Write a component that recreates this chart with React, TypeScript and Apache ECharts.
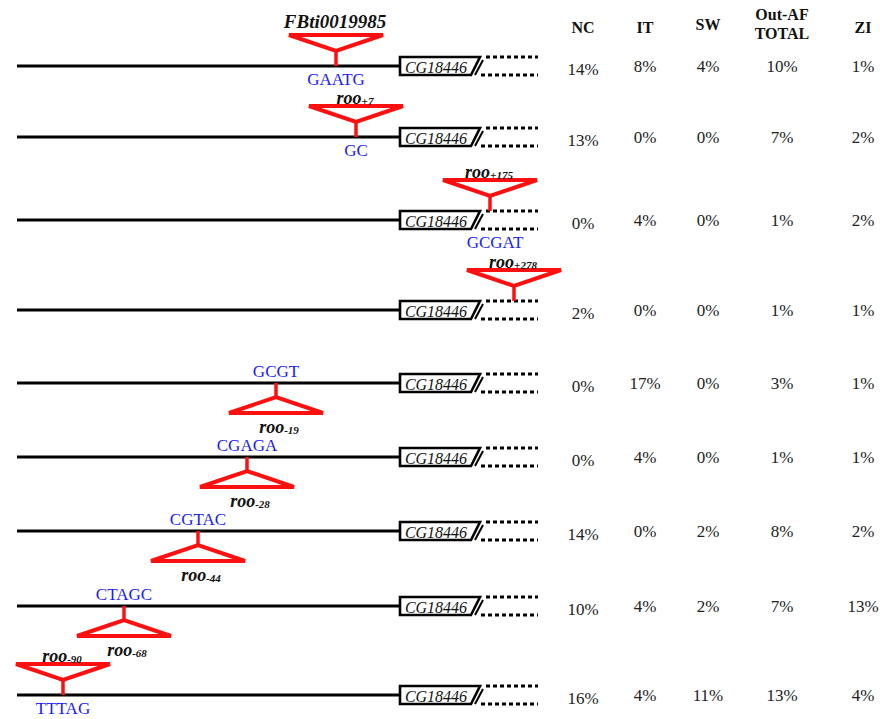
import React, { useEffect, useRef } from "react";
import * as echarts from "echarts";

// ---- data (schematic positions in axis units) ----
const rowTrackY = [66, 137, 220, 310, 383, 457, 531, 606, 695];
const insertionX = [336, 356, 490, 514, 276, 247, 198, 124, 63];
const insertionAbove = [true, true, true, true, false, false, false, false, true];
const teName = ["FBti0019985", "roo", "roo", "roo", "roo", "roo", "roo", "roo", "roo"];
const teSub = ["", "+7", "+175", "+278", "-19", "-28", "-44", "-68", "-90"];
const tsdSeq = ["GAATG", "GC", "GCGAT", "", "GCGT", "CGAGA", "CGTAC", "CTAGC", "TTTAG"];
const geneName = "CG18446";
const lineStartX = 17;
const geneStartX = 400;
const geneEndX = 480;
const dottedEndX = 538;

const columnHeaders = ["NC", "IT", "SW", "Out-AF\nTOTAL", "ZI"];
const ncPct = [14, 13, 0, 2, 0, 0, 14, 10, 16];
const itPct = [8, 0, 4, 0, 17, 4, 0, 4, 4];
const swPct = [4, 0, 0, 0, 0, 0, 2, 2, 11];
const outAfPct = [10, 7, 1, 1, 3, 1, 8, 7, 13];
const ziPct = [1, 2, 2, 1, 1, 1, 2, 13, 4];

// ---- layout ----
const W = 880;
const H = 719;
const columnX = [583, 645, 708, 782, 863];
const SERIF = "Liberation Serif";
const RED = "#ff1010";
const BLUE = "#1a1aff";

function teRich(i: number) {
  const sub = teSub[i];
  return {
    text: sub ? `{a|${teName[i]}}{b|${sub}}` : `{a|${teName[i]}}`,
    rich: {
      a: { fontFamily: SERIF, fontStyle: "italic", fontWeight: "bold", fontSize: sub ? 18 : 19, fill: "#111", lineHeight: 16, verticalAlign: "middle" },
      b: { fontFamily: SERIF, fontStyle: "italic", fontWeight: "bold", fontSize: 11, fill: "#111", lineHeight: 8, verticalAlign: "bottom" },
    },
  };
}

function renderTrack(params: any, api: any) {
  const i = params.dataIndex;
  const rowY = api.value(1);
  const [x0, y] = api.coord([lineStartX, rowY]);
  const gs = api.coord([geneStartX, rowY])[0];
  const ge = api.coord([geneEndX, rowY])[0];
  const de = api.coord([dottedEndX, rowY])[0];
  const ix = api.coord([api.value(0), rowY])[0];
  const children: any[] = [];
  children.push({ type: "line", shape: { x1: x0, y1: y, x2: gs, y2: y }, style: { stroke: "#000", lineWidth: 3 } });
  children.push({
    type: "polygon",
    shape: { points: [[gs, y - 9], [ge, y - 9], [ge - 9, y + 9], [gs, y + 9]] },
    style: { fill: "#fff", stroke: "#000", lineWidth: 2.6, lineJoin: "miter" },
  });
  children.push({
    type: "text",
    style: { text: geneName, x: gs + 36, y: y + 1, align: "center", verticalAlign: "middle", fontFamily: SERIF, fontStyle: "italic", fontSize: 16, fill: "#111" },
  });
  children.push({ type: "line", shape: { x1: ge - 5, y1: y + 9, x2: ge + 3, y2: y - 6 }, style: { stroke: "#000", lineWidth: 2 } });
  children.push({ type: "line", shape: { x1: ge + 6, y1: y - 9, x2: de, y2: y - 9 }, style: { stroke: "#000", lineWidth: 3, lineDash: [4, 3] } });
  children.push({ type: "line", shape: { x1: ge + 1, y1: y + 9, x2: de, y2: y + 9 }, style: { stroke: "#000", lineWidth: 3, lineDash: [4, 3] } });

  const inDotted = ix > ge;
  const blueStyle = { align: "center", verticalAlign: "middle", fontFamily: SERIF, fontSize: 17, lineHeight: 15, fill: BLUE };
  if (insertionAbove[i]) {
    const sb = inDotted ? y - 9 : y;
    const below = inDotted ? y + 9 : y;
    children.push({ type: "line", shape: { x1: ix, y1: sb, x2: ix, y2: sb - 15 }, style: { stroke: RED, lineWidth: 3.5 } });
    children.push({
      type: "polygon",
      shape: { points: [[ix - 47, sb - 31], [ix + 47, sb - 31], [ix, sb - 15]] },
      style: { fill: "none", stroke: RED, lineWidth: 4 },
    });
    children.push({ type: "text", style: { ...teRich(i), x: ix - 1, y: sb - (teSub[i] ? 39 : 45), align: "center", verticalAlign: "middle" } });
    if (tsdSeq[i]) {
      children.push({ type: "text", style: { ...blueStyle, text: tsdSeq[i], x: ix + (inDotted ? 5 : 0), y: below + 13 } });
    }
  } else {
    children.push({ type: "line", shape: { x1: ix, y1: y, x2: ix, y2: y + 14 }, style: { stroke: RED, lineWidth: 3.5 } });
    children.push({
      type: "polygon",
      shape: { points: [[ix - 47, y + 30], [ix + 47, y + 30], [ix, y + 14]] },
      style: { fill: "none", stroke: RED, lineWidth: 4 },
    });
    children.push({ type: "text", style: { ...teRich(i), x: ix + 3, y: y + 44, align: "center", verticalAlign: "middle" } });
    if (tsdSeq[i]) {
      children.push({ type: "text", style: { ...blueStyle, text: tsdSeq[i], x: ix, y: y - 12 } });
    }
  }
  return { type: "group", children };
}

function renderTable(params: any, api: any) {
  const i = params.dataIndex;
  const rowY = api.value(0);
  const cols = [ncPct, itPct, swPct, outAfPct, ziPct];
  const children = cols.map((arr, c) => {
    const [x, y] = api.coord([columnX[c], rowY]);
    return {
      type: "text",
      style: {
        text: `${arr[i]}%`,
        x,
        y: y + (c === 0 ? 3 : 0),
        align: "center",
        verticalAlign: "middle",
        fontFamily: SERIF,
        fontSize: 17,
        fill: "#222",
      },
    };
  });
  return { type: "group", children };
}

export default function App() {
  const ref = useRef<HTMLDivElement>(null);
  useEffect(() => {
    document.body.style.margin = "0";
    const chart = echarts.init(ref.current!, undefined, { renderer: "svg" });
    const headerGraphics = columnHeaders.map((h, c) => ({
      type: "text",
      x: columnX[c],
      y: c === 3 ? 24 : c === 2 ? 24 : 27,
      style: {
        text: h,
        align: "center",
        verticalAlign: "middle",
        fontFamily: SERIF,
        fontWeight: "bold",
        fontSize: 16,
        lineHeight: 19,
        fill: "#111",
      },
    }));
    chart.setOption({
      animation: false,
      backgroundColor: "#fff",
      grid: { left: 0, right: 0, top: 0, bottom: 0 },
      xAxis: { type: "value", min: 0, max: W, show: false },
      yAxis: { type: "value", min: 0, max: H, inverse: true, show: false },
      graphic: headerGraphics,
      series: [
        {
          type: "custom",
          name: "tracks",
          renderItem: renderTrack,
          data: rowTrackY.map((y, i) => [insertionX[i], y]),
          silent: true,
        },
        {
          type: "custom",
          name: "frequencies",
          renderItem: renderTable,
          data: rowTrackY.map((y) => [y]),
          silent: true,
        },
      ],
    });
    return () => chart.dispose();
  }, []);
  return <div ref={ref} style={{ position: "absolute", left: 0, top: 0, width: W, height: H }} />;
}
